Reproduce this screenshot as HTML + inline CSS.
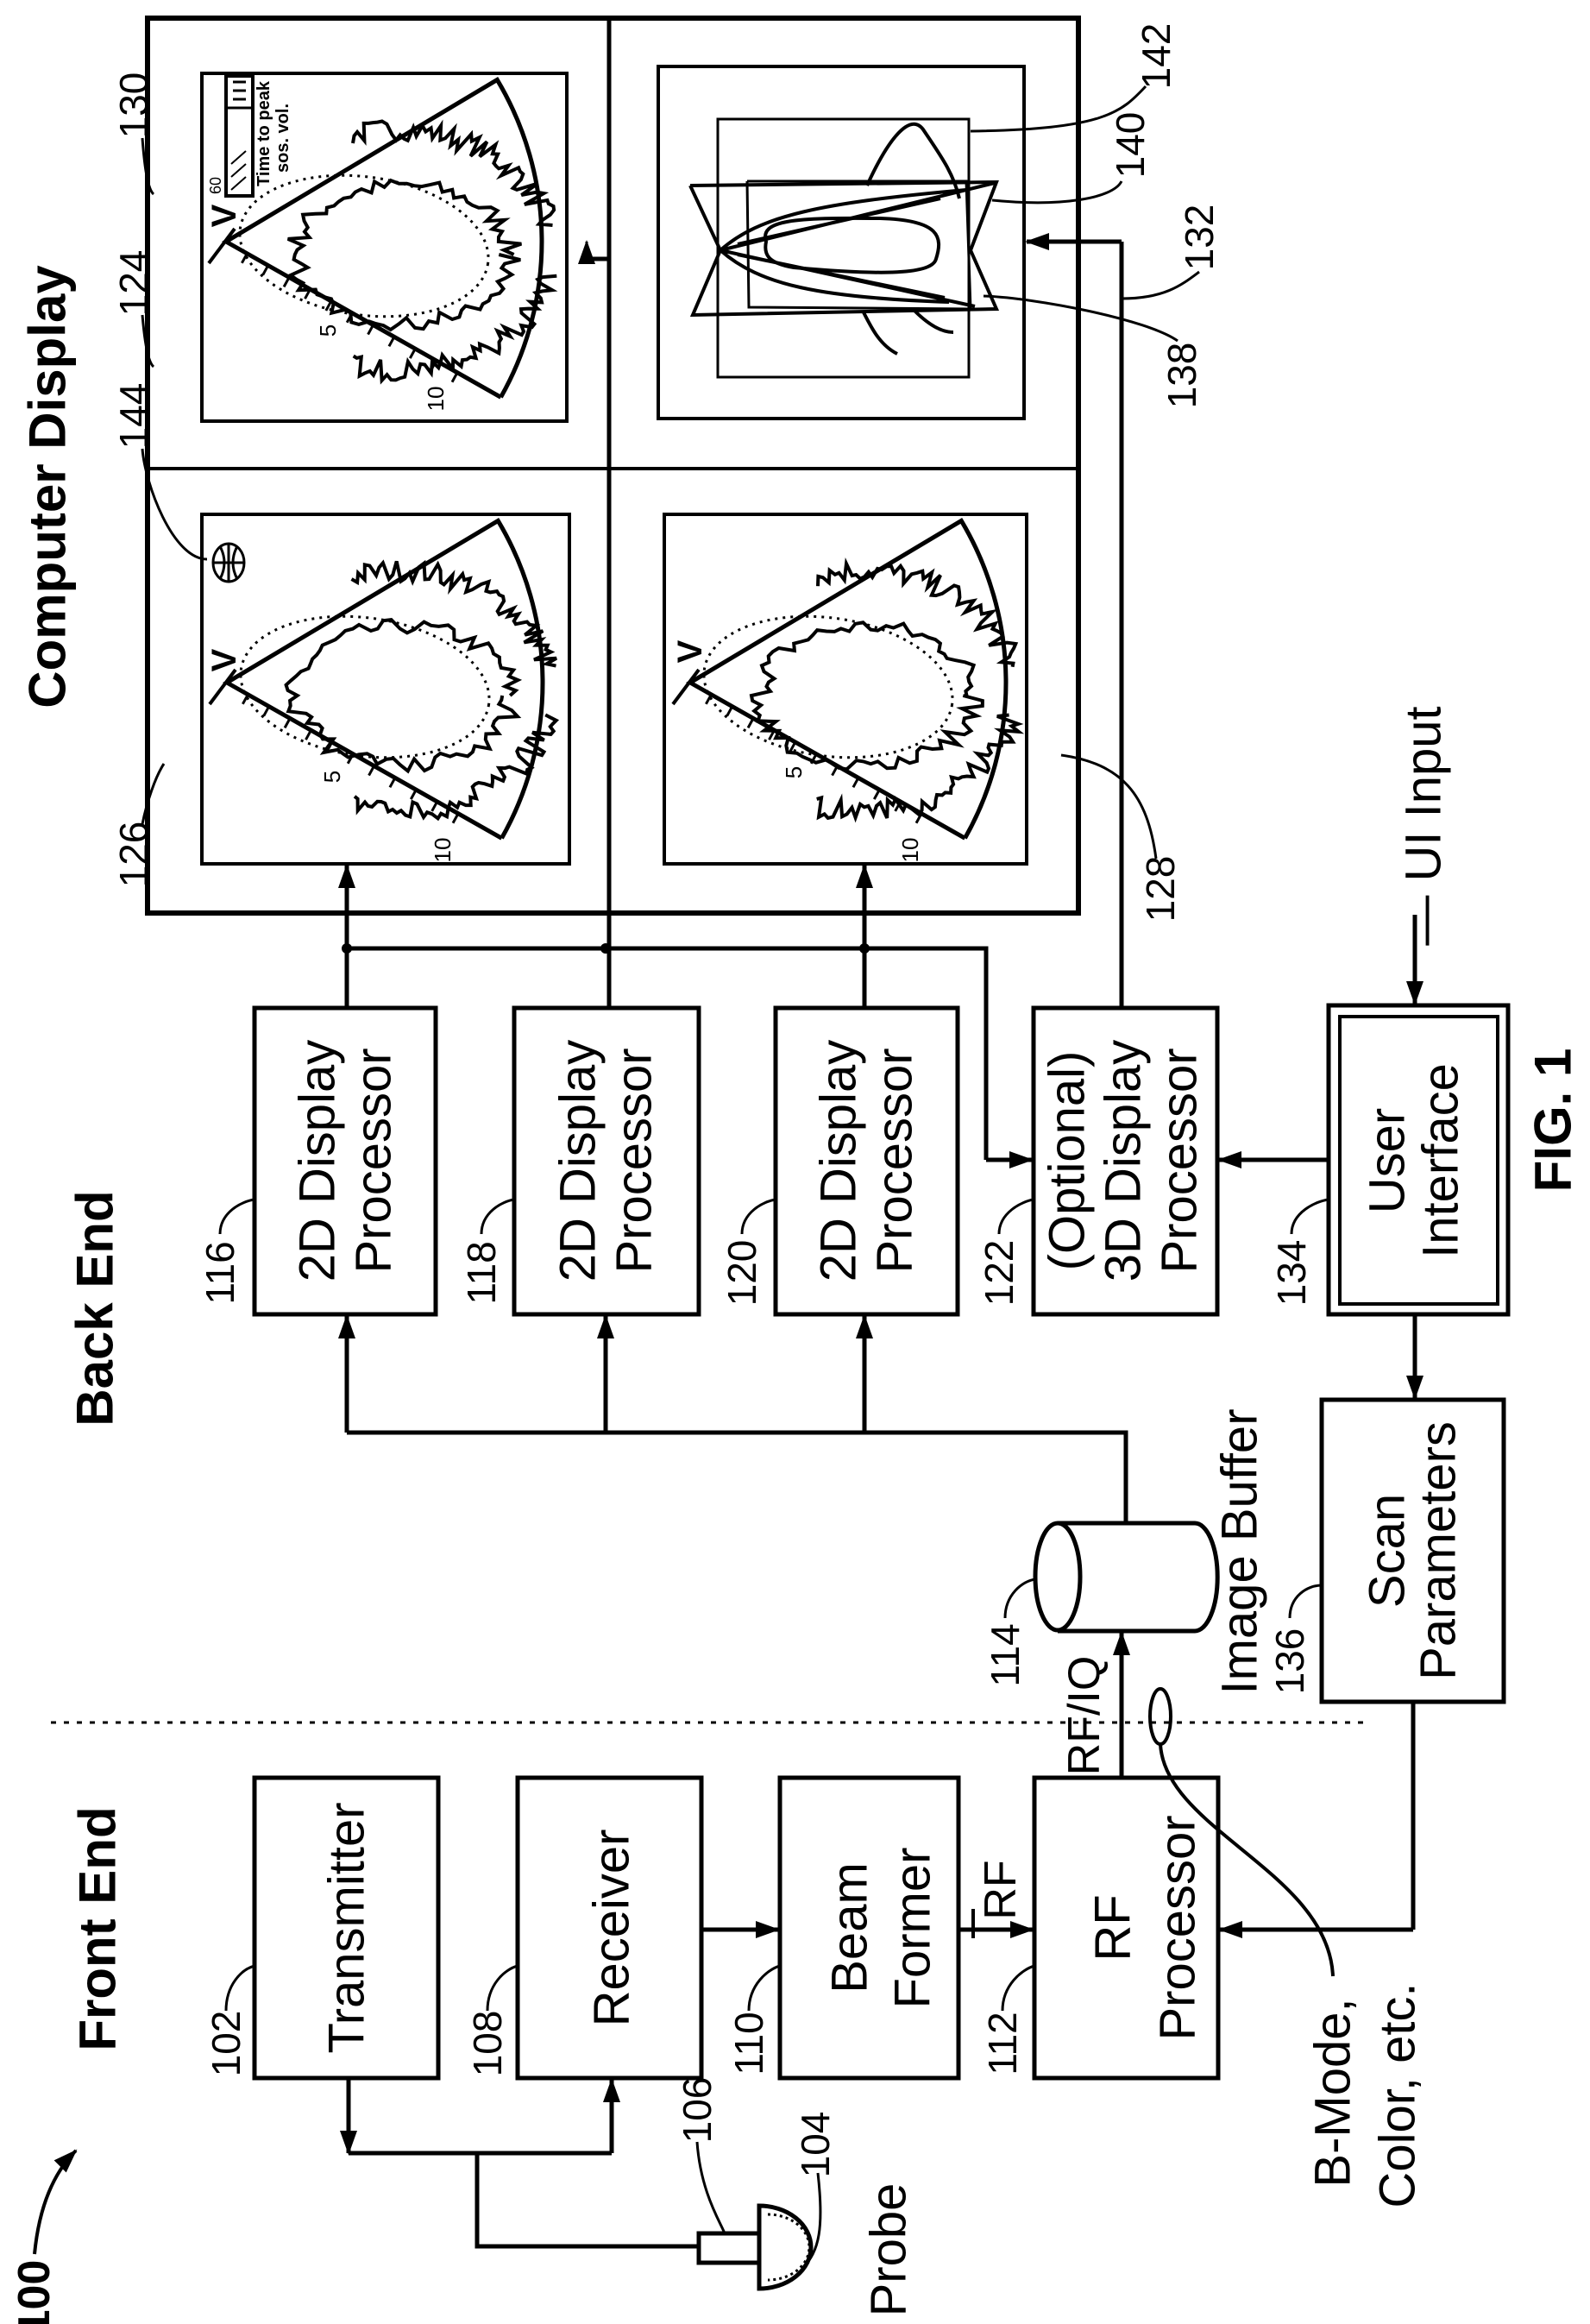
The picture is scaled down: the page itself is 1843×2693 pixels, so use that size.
<!DOCTYPE html>
<html><head><meta charset="utf-8">
<style>
html,body{margin:0;padding:0;background:#fff;}
svg{display:block;}
text{font-family:"Liberation Sans",Arial,sans-serif;fill:#000;}
</style></head>
<body>
<svg id="s" width="1843" height="2693" viewBox="0 0 1843 2693" xmlns="http://www.w3.org/2000/svg">
<defs>
<marker id="a" markerUnits="userSpaceOnUse" markerWidth="30" markerHeight="24" refX="26" refY="12" orient="auto">
<path d="M0,2 L28,12 L0,22 Z" fill="#000"/>
</marker>
</defs>
<g fill="none" stroke="#000" stroke-width="5">
<rect x="295" y="2060" width="213" height="348"/>
<rect x="600" y="2060" width="213" height="348"/>
<rect x="904" y="2060" width="207" height="348"/>
<rect x="1199" y="2060" width="213" height="348"/>
<rect x="295" y="1168" width="210" height="355"/>
<rect x="596" y="1168" width="214" height="355"/>
<rect x="899" y="1168" width="211" height="355"/>
<rect x="1198" y="1168" width="213" height="355"/>
<rect x="1540" y="1165" width="208" height="358"/>
<rect x="1553" y="1178" width="183" height="333" stroke-width="4"/>
<rect x="1532" y="1622" width="211" height="350"/>
<rect x="171" y="21" width="1079" height="1037" stroke-width="6"/>
<line x1="706" y1="21" x2="706" y2="1168"/>
<line x1="171" y1="543" x2="1250" y2="543" stroke-width="4"/>
<rect x="234" y="85" width="423" height="403" stroke-width="4"/>
<rect x="234" y="596" width="426" height="405" stroke-width="4"/>
<rect x="770" y="596" width="420" height="405" stroke-width="4"/>
<rect x="763" y="77" width="424" height="408" stroke-width="4"/>
<path d="M1226,1765 L1385,1765 A26,62 0 0 1 1385,1890 L1226,1890"/>
<ellipse cx="1226" cy="1827" rx="26" ry="62"/>
<line x1="59" y1="1996" x2="1585" y2="1996" stroke-width="3" stroke-dasharray="6 9"/>
<line x1="404" y1="2408" x2="404" y2="2495" marker-end="url(#a)"/>
<polyline points="404,2495 709,2495"/>
<line x1="709" y1="2495" x2="709" y2="2410" marker-end="url(#a)"/>
<polyline points="553,2495 553,2603 810,2603"/>
<line x1="813" y1="2236" x2="902" y2="2236" marker-end="url(#a)"/>
<line x1="1111" y1="2236" x2="1197" y2="2236" marker-end="url(#a)"/>
<line x1="1128" y1="2212" x2="1128" y2="2246" stroke-width="4"/>
<line x1="1300" y1="2060" x2="1300" y2="1892" marker-end="url(#a)"/>
<polyline points="1638,1972 1638,2236"/>
<line x1="1638" y1="2236" x2="1414" y2="2236" marker-end="url(#a)"/>
<rect x="810" y="2588" width="70" height="34"/>
<path d="M880,2556 A60,48 0 0 1 880,2652 Z" />
<path d="M890,2566 A48,38 0 0 1 890,2642" stroke-width="3" stroke-dasharray="3 4"/>
<polyline points="1305,1765 1305,1660 402,1660"/>
<line x1="402" y1="1660" x2="402" y2="1525" marker-end="url(#a)"/>
<line x1="702" y1="1660" x2="702" y2="1525" marker-end="url(#a)"/>
<line x1="1002" y1="1660" x2="1002" y2="1525" marker-end="url(#a)"/>
<line x1="402" y1="1168" x2="402" y2="1003" marker-end="url(#a)"/>
<line x1="1002" y1="1168" x2="1002" y2="1003" marker-end="url(#a)"/>
<polyline points="402,1099 1143,1099 1143,1344"/>
<line x1="1143" y1="1344" x2="1196" y2="1344" marker-end="url(#a)"/>
<polyline points="1300,1168 1300,280"/>
<line x1="1300" y1="280" x2="1190" y2="280" marker-end="url(#a)"/>
<polyline points="706,300 680,300"/>
<line x1="680" y1="300" x2="680" y2="280" marker-end="url(#a)" stroke-width="3"/>
<line x1="1540" y1="1344" x2="1413" y2="1344" marker-end="url(#a)"/>
<line x1="1640" y1="1523" x2="1640" y2="1620" marker-end="url(#a)"/>
<line x1="1640" y1="1060" x2="1640" y2="1163" marker-end="url(#a)"/>
<ellipse cx="1345" cy="1989" rx="12" ry="32" stroke-width="4"/>
<path d="M1345,2021 C1350,2120 1540,2170 1545,2290" stroke-width="4"/>
<path d="M40,2612 C45,2560 60,2520 88,2492" stroke-width="4" marker-end="url(#a)"/>
<g stroke-width="3">
<path d="M262,2330 C262,2300 280,2282 295,2278"/>
<path d="M565,2330 C565,2300 585,2282 600,2278"/>
<path d="M868,2330 C868,2300 890,2282 904,2278"/>
<path d="M1162,2330 C1162,2300 1185,2282 1199,2278"/>
<path d="M255,1430 C255,1405 280,1392 295,1390"/>
<path d="M558,1430 C558,1405 582,1392 596,1390"/>
<path d="M860,1430 C860,1405 885,1392 899,1390"/>
<path d="M1158,1430 C1158,1405 1185,1392 1198,1390"/>
<path d="M1497,1430 C1497,1405 1525,1392 1540,1390"/>
<path d="M1495,1875 C1495,1850 1515,1837 1532,1837"/>
<path d="M1165,1875 C1165,1848 1185,1832 1200,1830"/>
<path d="M808,2482 C812,2540 835,2575 840,2588"/>
<path d="M948,2518 C955,2580 950,2610 930,2628"/>
<path d="M165,955 C170,930 180,900 190,885"/>
<path d="M165,520 C168,560 200,648 240,648"/>
<path d="M165,365 C168,400 172,420 178,425"/>
<path d="M165,160 C168,200 172,220 178,225"/>
<path d="M1340,995 C1330,920 1300,885 1230,875"/>
<path d="M1328,100 C1300,130 1280,150 1125,152"/>
<path d="M1300,210 C1290,230 1230,240 1150,232"/>
<path d="M1390,315 C1370,330 1350,346 1300,346"/>
<path d="M1365,395 C1330,370 1200,345 1140,343"/>
</g>
<g stroke-width="4">
<rect x="832" y="138" width="291" height="299" stroke-width="3"/>
<polyline points="800,215 835,290 803,365 1155,358 1125,290 1155,211 800,215"/>
<polyline points="866,210 1120,210 1125,358 868,356 866,210" stroke-width="3"/>
<path d="M835,290 L1153,212 M835,290 L1130,355 M835,290 C880,250 950,235 1120,220 M835,290 C880,330 950,345 1100,350 M855,283 L1090,230 M855,295 L1095,345"/>
<path d="M888,280 C880,255 920,252 1020,253 C1090,255 1093,275 1085,300 C1080,320 1010,318 920,310 C890,305 885,295 888,280 Z"/>
<path d="M1005,215 C1030,160 1055,130 1070,150 C1090,180 1105,200 1112,230 M1000,360 C1010,380 1020,400 1040,410 M1060,360 C1075,375 1090,385 1105,385"/>
</g>
</g>
<g id="fans" fill="none" stroke="#000"></g>
<g fill="none" stroke="#000" stroke-width="3">
<ellipse cx="265" cy="652" rx="18" ry="22"/>
<line x1="247" y1="652" x2="283" y2="652"/>
<line x1="265" y1="630" x2="265" y2="674"/>
<path d="M255,633 Q265,652 255,671 M275,633 Q265,652 275,671"/>
<rect x="262" y="88" width="31" height="139" stroke-width="4"/>
<line x1="262" y1="125" x2="293" y2="125"/>
<path d="M268,190 L285,175 M268,205 L285,190 M268,220 L285,205" stroke-width="2"/>
<path d="M270,95 L285,95 M270,105 L285,105 M270,115 L285,115" stroke-width="3"/>
</g>
<g font-size="58" text-anchor="middle" dominant-baseline="central">
<text transform="translate(402,2234) rotate(-90)">Transmitter</text>
<text transform="translate(709,2234) rotate(-90)">Receiver</text>
<text transform="translate(985,2234) rotate(-90)">Beam</text>
<text transform="translate(1058,2234) rotate(-90)">Former</text>
<text transform="translate(1290,2234) rotate(-90)">RF</text>
<text transform="translate(1365,2234) rotate(-90)">Processor</text>
<text transform="translate(368,1345) rotate(-90)">2D Display</text>
<text transform="translate(433,1345) rotate(-90)">Processor</text>
<text transform="translate(670,1345) rotate(-90)">2D Display</text>
<text transform="translate(735,1345) rotate(-90)">Processor</text>
<text transform="translate(972,1345) rotate(-90)">2D Display</text>
<text transform="translate(1037,1345) rotate(-90)">Processor</text>
<text transform="translate(1237,1345) rotate(-90)">(Optional)</text>
<text transform="translate(1302,1345) rotate(-90)">3D Display</text>
<text transform="translate(1367,1345) rotate(-90)">Processor</text>
<text transform="translate(1608,1345) rotate(-90)">User</text>
<text transform="translate(1670,1345) rotate(-90)">Interface</text>
<text transform="translate(1608,1797) rotate(-90)">Scan</text>
<text transform="translate(1667,1797) rotate(-90)">Parameters</text>
<text transform="translate(1437,1798) rotate(-90)">Image Buffer</text>
<text transform="translate(1257,1988) rotate(-90)" font-size="52">RF/IQ</text>
<text transform="translate(1160,2190) rotate(-90)" font-size="52">RF</text>
<text transform="translate(1545,2425) rotate(-90)">B-Mode,</text>
<text transform="translate(1620,2428) rotate(-90)">Color, etc.</text>
<text transform="translate(1030,2607) rotate(-90)">Probe</text>
<text transform="translate(1650,957) rotate(-90)">— UI Input</text>
</g>
<g font-size="60" font-weight="bold" text-anchor="middle" dominant-baseline="central">
<text transform="translate(113,2235) rotate(-90)">Front End</text>
<text transform="translate(110,1516) rotate(-90)">Back End</text>
<text transform="translate(55,564) rotate(-90)">Computer Display</text>
<text transform="translate(1800,1298) rotate(-90)">FIG. 1</text>
<text transform="translate(40,2662) rotate(-90)" font-size="52">100</text>
</g>
<g font-size="46" text-anchor="middle" dominant-baseline="central">
<text transform="translate(262,2368) rotate(-90)">102</text>
<text transform="translate(565,2368) rotate(-90)">108</text>
<text transform="translate(868,2368) rotate(-90)">110</text>
<text transform="translate(1162,2368) rotate(-90)">112</text>
<text transform="translate(808,2445) rotate(-90)">106</text>
<text transform="translate(945,2485) rotate(-90)">104</text>
<text transform="translate(255,1475) rotate(-90)">116</text>
<text transform="translate(558,1475) rotate(-90)">118</text>
<text transform="translate(860,1475) rotate(-90)">120</text>
<text transform="translate(1158,1475) rotate(-90)">122</text>
<text transform="translate(1497,1475) rotate(-90)">134</text>
<text transform="translate(1495,1925) rotate(-90)">136</text>
<text transform="translate(1165,1918) rotate(-90)">114</text>
<text transform="translate(155,990) rotate(-90)">126</text>
<text transform="translate(155,482) rotate(-90)">144</text>
<text transform="translate(155,328) rotate(-90)">124</text>
<text transform="translate(155,122) rotate(-90)">130</text>
<text transform="translate(1345,1030) rotate(-90)">128</text>
<text transform="translate(1370,435) rotate(-90)">138</text>
<text transform="translate(1390,275) rotate(-90)">132</text>
<text transform="translate(1310,168) rotate(-90)">140</text>
<text transform="translate(1340,65) rotate(-90)">142</text>
</g>
<g text-anchor="middle" dominant-baseline="central">
<text transform="translate(260,250) rotate(-90)" font-size="40" font-weight="bold">V</text>
<text transform="translate(260,765) rotate(-90)" font-size="40" font-weight="bold">V</text>
<text transform="translate(800,755) rotate(-90)" font-size="40" font-weight="bold">V</text>
<text transform="translate(250,215) rotate(-90)" font-size="18">60</text>
<text transform="translate(306,155) rotate(-90)" font-size="20" font-weight="bold">Time to peak</text>
<text transform="translate(328,160) rotate(-90)" font-size="20" font-weight="bold">sos. vol.</text>
<text transform="translate(380,383) rotate(-90)" font-size="26">5</text>
<text transform="translate(505,462) rotate(-90)" font-size="26">10</text>
<text transform="translate(385,900) rotate(-90)" font-size="26">5</text>
<text transform="translate(513,985) rotate(-90)" font-size="26">10</text>
<text transform="translate(920,895) rotate(-90)" font-size="26">5</text>
<text transform="translate(1055,985) rotate(-90)" font-size="26">10</text>
</g>
<g fill="#000" >
<circle cx="402" cy="1099" r="6"/><circle cx="702" cy="1099" r="6"/><circle cx="1002" cy="1099" r="6"/>
</g>
</svg>
<script>
(function(){
var g=document.getElementById('fans');var NS='http://www.w3.org/2000/svg';
var seed=7;function r(){seed=(seed*16807)%2147483647;return seed/2147483647;}
function add(tag,at){var e=document.createElementNS(NS,tag);for(var k in at)e.setAttribute(k,at[k]);g.appendChild(e);}
function fan(ax,ay){
  var R=366,a1=Math.atan2(180,318),a2=Math.atan2(-188,315);
  var x1=ax+R*Math.cos(a1),y1=ay+R*Math.sin(a1),x2=ax+R*Math.cos(a2),y2=ay+R*Math.sin(a2);
  add('path',{d:'M'+x1+','+y1+' L'+ax+','+ay+' L'+x2+','+y2+' A'+R+','+R+' 0 0 1 '+x1+','+y1,'stroke-width':5});
  add('path',{d:'M'+(ax-20)+','+(ay+25)+' L'+(ax+10)+','+(ay-15),'stroke-width':4});
  var t='';for(var i=1;i<12;i++){var d=i*28,px=ax+d*Math.cos(a1),py=ay+d*Math.sin(a1);t+='M'+px+','+py+' l'+(-6)+','+(11);}
  add('path',{d:t,'stroke-width':3});
  add('ellipse',{cx:ax+160,cy:ay+5,rx:145,ry:80,'stroke-width':3,'stroke-dasharray':'3 6',transform:'rotate(8 '+(ax+160)+' '+(ay+5)+')'});
  function jag(cx,cy,rx,ry,a,b,amp,n){var s='';for(var i=0;i<=n;i++){var th=a+(b-a)*i/n;var k=1+(r()-0.5)*amp;var x=cx+rx*k*Math.cos(th),y=cy+ry*k*Math.sin(th);s+=(i?'L':'M')+x.toFixed(1)+','+y.toFixed(1);}return s;}
  add('path',{d:jag(ax+205,ay+15,125,80,0,6.283,0.22,90),'stroke-width':4});
  add('path',{d:jag(ax+200,ay+10,175,140,-1.9,-0.2,0.18,60),'stroke-width':4});
  add('path',{d:jag(ax+200,ay+10,175,140,0.2,1.9,0.18,60),'stroke-width':4});
}
fan(262,280);fan(263,791);fan(800,791);
})();
</script>
</body></html>
